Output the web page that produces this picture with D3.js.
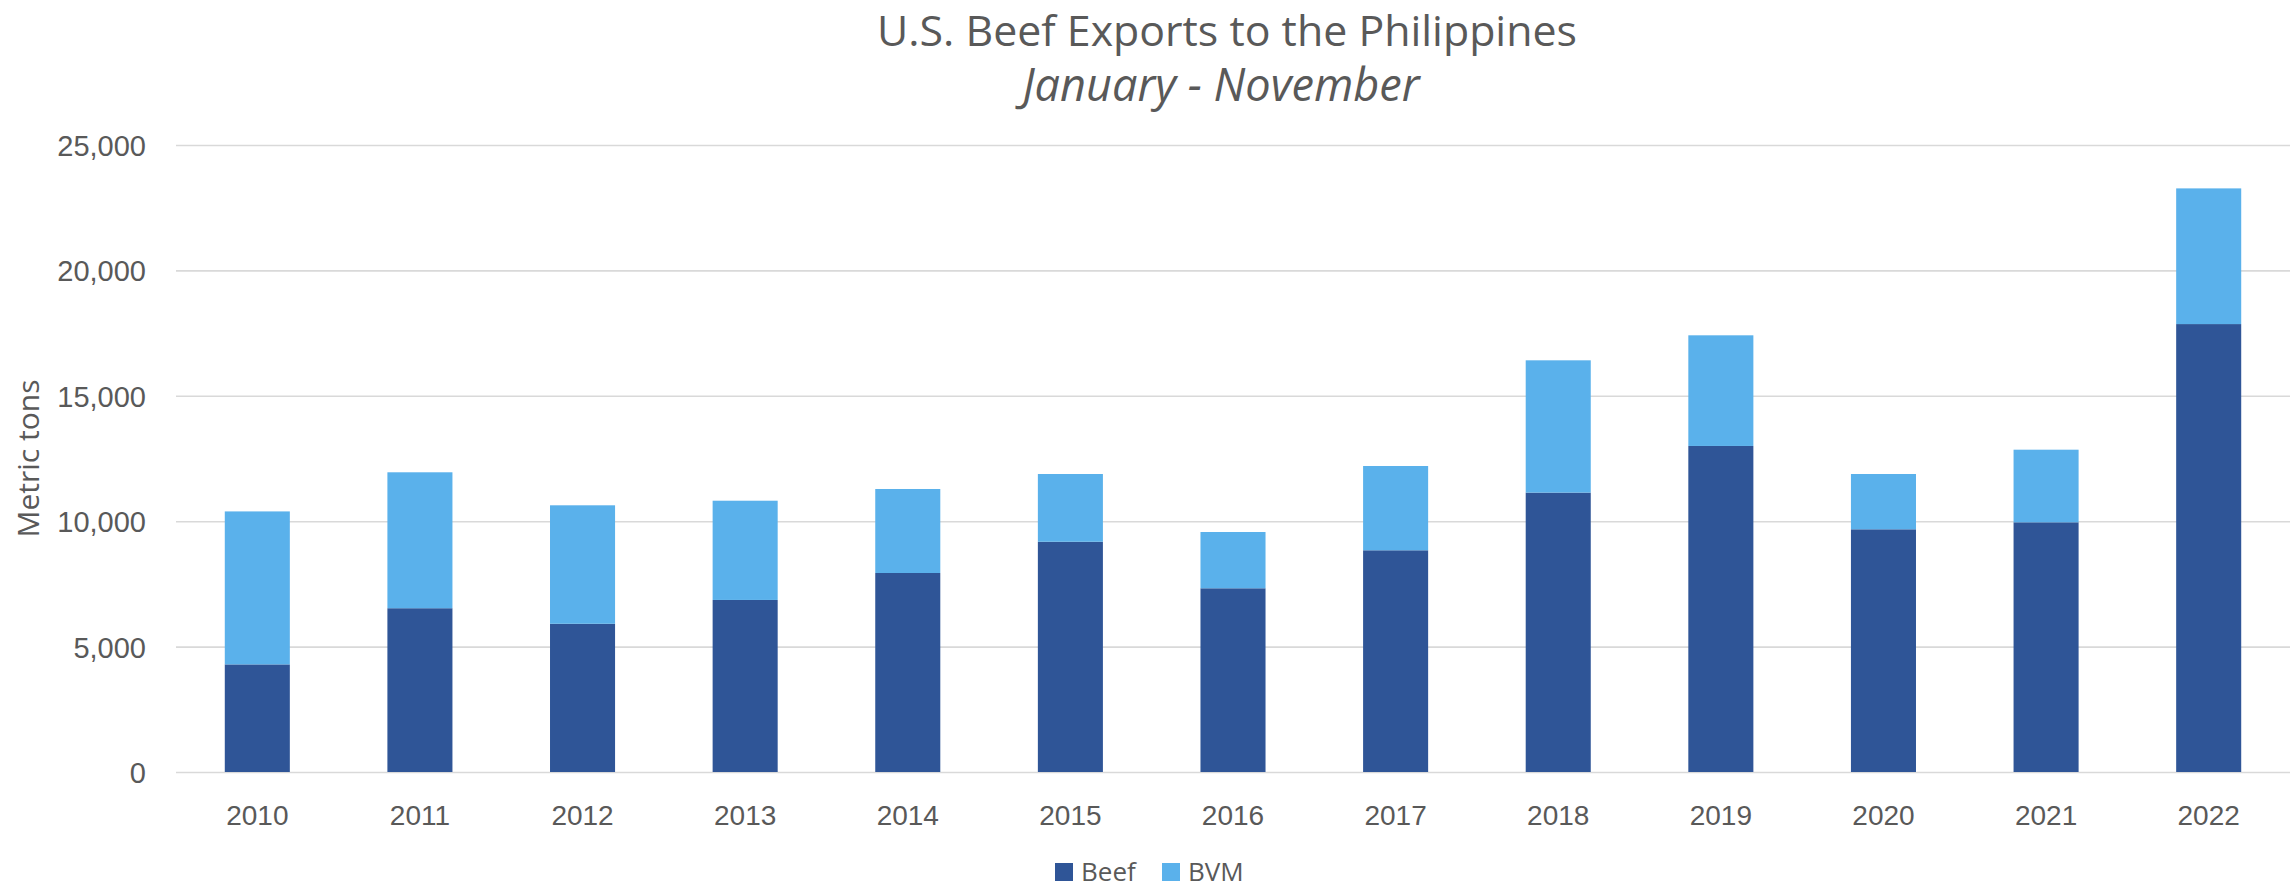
<!DOCTYPE html>
<html>
<head>
<meta charset="utf-8">
<script src="https://cdn.jsdelivr.net/npm/d3@7"></script>
<style>
  html, body { margin: 0; padding: 0; background: #ffffff; }
  svg { display: block; font-family: "Open Sans", "Liberation Sans", sans-serif; }
</style>
</head>
<body>
<svg id="chart" width="2293" height="890"></svg>
<script>
// Calendar years shown on the x axis
const years = ["2010", "2011", "2012", "2013", "2014", "2015", "2016",
               "2017", "2018", "2019", "2020", "2021", "2022"];

// January–November export volumes, metric tons
const beef = [4290, 6530, 5910, 6860, 7935, 9180, 7325, 8840, 11140, 13000, 9677, 9956, 17860];
const bvm  = [6100, 5420, 4724, 3957, 3349, 2702, 2244, 3361, 5275, 4412, 2205, 2895, 5410];

const seriesNames = ["Beef", "BVM"];
const yTicks = [0, 5000, 10000, 15000, 20000, 25000];

const titleText = "U.S. Beef Exports to the Philippines";
const subtitleText = "January - November";
const yAxisLabel = "Metric tons";

const colors = { Beef: "#2f5597", BVM: "#5ab1eb" };
const textColor = "#595959";
const gridColor = "#d9d9d9";

const svg = d3.select("#chart");
const plot = { left: 176, right: 2290, top: 145, bottom: 772 };

const x = d3.scaleBand()
  .domain(years)
  .range([plot.left, plot.right])
  .paddingInner(0.6)
  .paddingOuter(0.3);

const y = d3.scaleLinear()
  .domain([0, 25000])
  .range([plot.bottom, plot.top]);

// Horizontal gridlines with the value labels on the left
const yAxis = d3.axisLeft(y)
  .tickValues(yTicks)
  .tickFormat(d3.format(","))
  .tickSize(-(plot.right - plot.left))
  .tickPadding(30);

const gy = svg.append("g")
  .attr("transform", `translate(${plot.left},0)`)
  .call(yAxis);
gy.select(".domain").remove();
gy.selectAll(".tick line").attr("stroke", gridColor).attr("stroke-width", 1.6);
gy.selectAll(".tick text")
  .attr("fill", textColor)
  .style("font-size", "29px")
  .attr("dy", "0.36em");

// Stack the two series per year
const rows = years.map((yr, i) => ({ year: yr, Beef: beef[i], BVM: bvm[i] }));
const stacked = d3.stack().keys(seriesNames)(rows);

svg.append("g")
  .selectAll("g")
  .data(stacked)
  .join("g")
  .attr("fill", d => colors[d.key])
  .selectAll("rect")
  .data(d => d)
  .join("rect")
  .attr("x", d => x(d.data.year))
  .attr("width", x.bandwidth())
  .attr("y", d => y(d[1]))
  .attr("height", d => y(d[0]) - y(d[1]));

// Category labels below the bars
const xAxis = d3.axisBottom(x).tickSize(0).tickPadding(0);
const gx = svg.append("g")
  .attr("transform", `translate(0,${plot.bottom})`)
  .call(xAxis);
gx.select(".domain").remove();
gx.selectAll(".tick text")
  .attr("fill", textColor)
  .style("font-size", "28px")
  .attr("y", 53)
  .attr("dy", 0);

// Vertical axis title
svg.append("text")
  .attr("transform", `translate(39,${(plot.top + plot.bottom) / 2}) rotate(-90)`)
  .attr("text-anchor", "middle")
  .attr("fill", textColor)
  .style("font-size", "30px")
  .text(yAxisLabel);

// Sizes a text element so it spans the given width
function fitWidth(sel, width) {
  const node = sel.node();
  const fs = parseFloat(sel.style("font-size"));
  const w = node.getComputedTextLength();
  sel.style("font-size", (fs * width / w).toFixed(2) + "px");
}

const titleX = 1227;
const title = svg.append("text")
  .attr("x", titleX)
  .attr("y", 46)
  .attr("text-anchor", "middle")
  .attr("fill", textColor)
  .style("font-size", "40px")
  .text(titleText);
fitWidth(title, 700);

const subtitle = svg.append("text")
  .attr("x", titleX - 6)
  .attr("y", 101)
  .attr("text-anchor", "middle")
  .attr("fill", textColor)
  .style("font-size", "40px")
  .style("font-style", "italic")
  .text(subtitleText);
fitWidth(subtitle, 397);

// Legend centred under the chart
const legend = svg.append("g").attr("transform", "translate(0,881)");
const legendItems = [
  { name: "Beef", sx: 1055 },
  { name: "BVM", sx: 1162 }
];
legendItems.forEach(item => {
  legend.append("rect")
    .attr("x", item.sx)
    .attr("y", -18)
    .attr("width", 18)
    .attr("height", 18)
    .attr("fill", colors[item.name]);
  legend.append("text")
    .attr("x", item.sx + 26)
    .attr("y", 0)
    .attr("fill", textColor)
    .style("font-size", "26px")
    .text(item.name);
});
</script>
</body>
</html>
